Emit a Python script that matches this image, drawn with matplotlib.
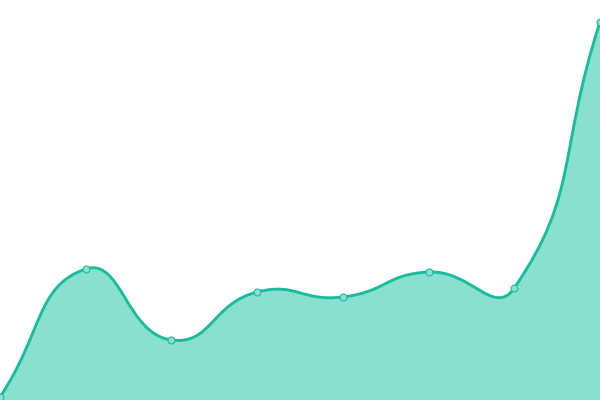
import numpy as np
import matplotlib.pyplot as plt
from matplotlib.path import Path
from matplotlib.patches import PathPatch

# Values (y axis runs 0..400)
x_vals = [0, 1, 2, 3, 4, 5, 6, 7]
y_vals = [3, 131, 60, 108, 103, 128, 112, 378]

line_color = '#1abc9c'
fill_color = '#8ae0cf'


def smooth_path(xs, ys, smooth=0.5):
    """Cubic bezier path through the points, echarts-style smoothing."""
    pts = np.column_stack([xs, ys]).astype(float)
    n = len(pts)
    cps = []
    for i in range(n):
        # a missing neighbour is replaced by the point itself
        prev = pts[i - 1] if i > 0 else pts[i]
        nxt = pts[i + 1] if i < n - 1 else pts[i]
        cur = pts[i]
        v = nxt - prev
        d0 = np.hypot(*(cur - prev))
        d1 = np.hypot(*(nxt - cur))
        s = d0 + d1
        cps.append((cur - v * smooth * d0 / s, cur + v * smooth * d1 / s))
    verts = [pts[0]]
    codes = [Path.MOVETO]
    for i in range(n - 1):
        verts += [cps[i][1], cps[i + 1][0], pts[i + 1]]
        codes += [Path.CURVE4] * 3
    return verts, codes


fig = plt.figure(figsize=(6, 4), dpi=100)
ax = fig.add_axes([0, 0, 1, 1])
# one x step = 600/7 px, one y unit = 1 px, so smoothing works in screen space
xs = np.array(x_vals) * 600 / 7
ax.set_xlim(0, 600)
ax.set_ylim(0, 400)

verts, codes = smooth_path(xs, y_vals)

area_verts = verts + [(xs[-1], 0), (xs[0], 0), verts[0]]
area_codes = codes + [Path.LINETO, Path.LINETO, Path.CLOSEPOLY]
ax.add_patch(PathPatch(Path(area_verts, area_codes), facecolor=fill_color,
                       edgecolor='none'))
ax.add_patch(PathPatch(Path(verts, codes), facecolor='none',
                       edgecolor=line_color, linewidth=2.1))
ax.plot(xs, y_vals, linestyle='none', marker='o', markersize=5,
        markerfacecolor=fill_color, markeredgecolor=line_color,
        markeredgewidth=0.8)

ax.axis('off')
fig.savefig('out.png', dpi=100)
